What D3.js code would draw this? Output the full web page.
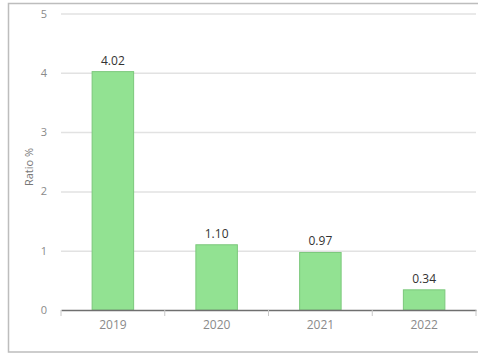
<!DOCTYPE html>
<html><head><meta charset="utf-8">
<script src="https://cdn.jsdelivr.net/npm/d3@7"></script>
<style>body{margin:0;background:#fff;}svg{display:block;}</style>
</head><body>
<script>
const categories = ["2019", "2020", "2021", "2022"];
const values = [4.02, 1.10, 0.97, 0.34];
const valueLabels = ["4.02", "1.10", "0.97", "0.34"];
const yTicks = [0, 1, 2, 3, 4, 5];
const yTitle = "Ratio %";

const W = 478, H = 354;
const svg = d3.select("body").append("svg").attr("width", W).attr("height", H);
const font = "'Open Sans', 'DejaVu Sans', sans-serif";

// frame
svg.append("rect").attr("x", 8.5).attr("y", 3.5).attr("width", 480).attr("height", 348.5)
  .attr("fill", "none").attr("stroke", "#bdbdbd").attr("stroke-width", 1.5);

const x = d3.scaleBand().domain(categories).range([61, 476]).paddingInner(0.6).paddingOuter(0.3);
const y = d3.scaleLinear().domain([0, 5]).range([310, 13.5]);

// gridlines
svg.append("g").selectAll("line").data(yTicks.filter(t => t > 0)).join("line")
  .attr("x1", 61).attr("x2", 476).attr("y1", d => y(d) + 0.5).attr("y2", d => y(d) + 0.5)
  .attr("stroke", "#e2e2e2").attr("stroke-width", 1.5);

// y tick labels
svg.append("g").selectAll("text").data(yTicks).join("text")
  .attr("x", 47).attr("y", d => y(d) + 4).attr("text-anchor", "end")
  .attr("font-family", font).attr("font-size", 11).attr("fill", "#8a8a8a").text(d => d);

// bars
svg.append("g").selectAll("rect").data(values).join("rect")
  .attr("x", (d, i) => x(categories[i])).attr("width", x.bandwidth())
  .attr("y", d => y(d)).attr("height", d => y(0) - y(d))
  .attr("fill", "#92e292").attr("stroke", "#7cc87c").attr("stroke-width", 1);

// value labels
svg.append("g").selectAll("text").data(values).join("text")
  .attr("x", (d, i) => x(categories[i]) + x.bandwidth() / 2).attr("y", d => y(d) - 7)
  .attr("text-anchor", "middle").attr("font-family", font).attr("font-size", 12)
  .attr("fill", "#333").text((d, i) => valueLabels[i]);

// x axis
const xAxis = d3.axisBottom(x).tickSize(0).tickPadding(10);
const gx = svg.append("g").attr("transform", `translate(0,${y(0)})`).call(xAxis);
gx.select(".domain").attr("stroke", "#6f6f6f").attr("stroke-width", 1.5);
gx.selectAll("text").attr("font-family", font).attr("font-size", 12).attr("fill", "#8a8a8a");
// boundary ticks
const bounds = categories.map(c => x(c) - x.step() * x.paddingInner() / 2 - (x.step()*0)).map((v,i)=>61 + i * (476-61)/categories.length);
bounds.push(476);
svg.append("g").selectAll("line").data(bounds).join("line")
  .attr("x1", d => d).attr("x2", d => d).attr("y1", y(0)).attr("y2", y(0) + 6)
  .attr("stroke", "#c8c8c8").attr("stroke-width", 1);

// y title
svg.append("text").attr("transform", `translate(33,167) rotate(-90)`).attr("text-anchor", "middle")
  .attr("font-family", font).attr("font-size", 11).attr("fill", "#777").text(yTitle);
</script>
</body></html>
